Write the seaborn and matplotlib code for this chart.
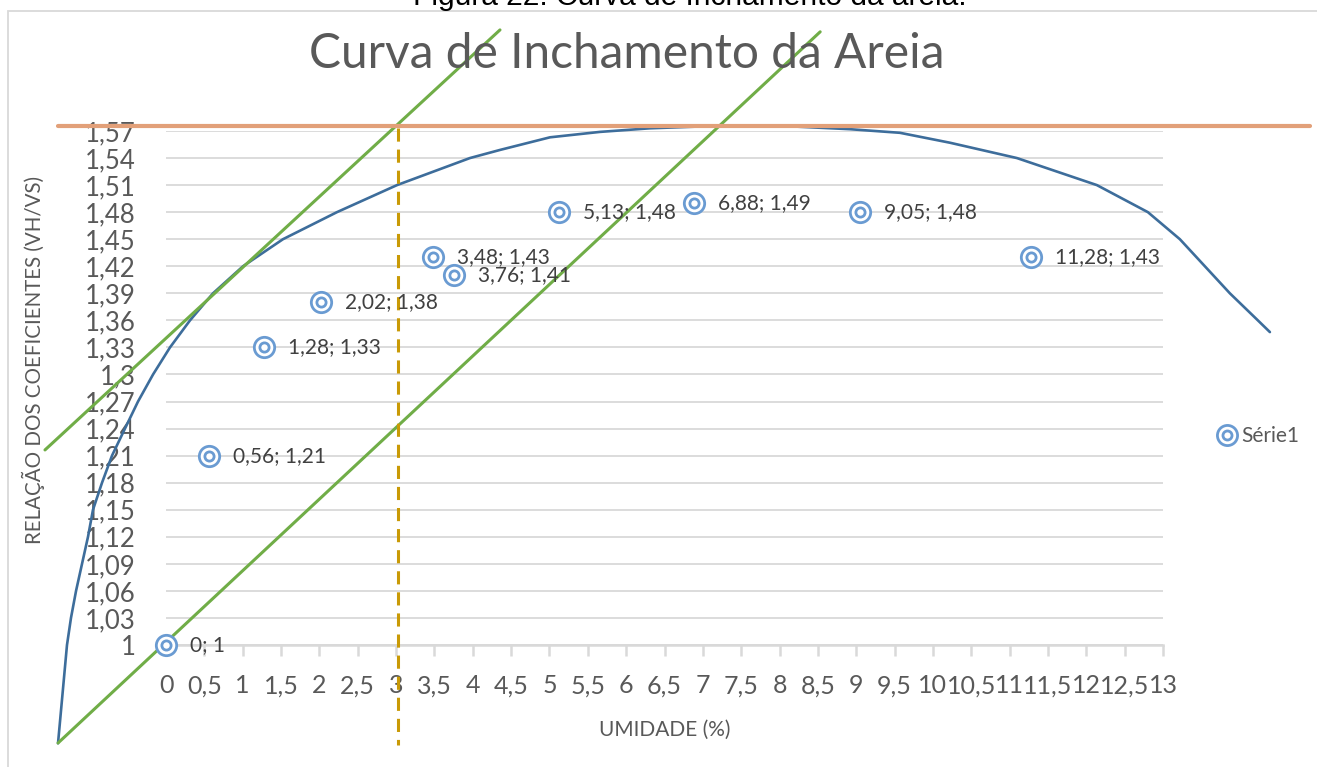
import numpy as np
import pandas as pd
import matplotlib
matplotlib.use("Agg")
import matplotlib.pyplot as plt
import seaborn as sns
from matplotlib.legend_handler import HandlerTuple
from matplotlib.lines import Line2D
from matplotlib.patches import Rectangle

# ---------------- data ----------------
umidade = [0, 0.56, 1.28, 2.02, 3.48, 3.76, 5.13, 6.88, 9.05, 11.28]
relacao = [1.00, 1.21, 1.33, 1.38, 1.43, 1.41, 1.48, 1.49, 1.48, 1.43]
point_labels = ["0; 1", "0,56; 1,21", "1,28; 1,33", "2,02; 1,38", "3,48; 1,43",
                "3,76; 1,41", "5,13; 1,48", "6,88; 1,49", "9,05; 1,48", "11,28; 1,43"]

# hand-drawn swelling curve (data units)
curve_x = [-1.408, -1.291, -1.239, -1.173, -1.095, -1.017, -0.952, -0.834, -0.704,
           -0.535, -0.365, -0.169, 0.052, 0.313, 0.613, 1.004, 1.525, 2.229, 3.012,
           3.963, 4.355, 5.007, 5.658, 6.310, 6.962, 7.940, 8.918, 9.570, 10.222,
           11.095, 12.138, 12.803, 13.220, 13.546, 13.872, 14.237, 14.394]
curve_y = [0.891, 1.000, 1.030, 1.060, 1.090, 1.120, 1.150, 1.180, 1.210,
           1.240, 1.270, 1.300, 1.330, 1.360, 1.390, 1.420, 1.450, 1.480, 1.510,
           1.540, 1.549, 1.563, 1.569, 1.573, 1.575, 1.576, 1.572, 1.568, 1.557,
           1.540, 1.510, 1.480, 1.450, 1.420, 1.390, 1.360, 1.347]

# tangent lines, max line and critical humidity line
tangent1_x = [-1.578, 4.355]
tangent1_y = [1.2163, 1.6821]
tangent2_x = [-1.408, 8.53]
tangent2_y = [0.8913, 1.680]
maxline_x = [-1.408, 14.915]
maxline_y = [1.5756, 1.5756]
critical_x = [3.02, 3.02]
critical_y = [1.5735, 0.889]

x_ticks = [0, 0.5, 1, 1.5, 2, 2.5, 3, 3.5, 4, 4.5, 5, 5.5, 6, 6.5, 7, 7.5, 8, 8.5,
           9, 9.5, 10, 10.5, 11, 11.5, 12, 12.5, 13]
x_tick_labels = ["0", "0,5", "1", "1,5", "2", "2,5", "3", "3,5", "4", "4,5", "5", "5,5",
                 "6", "6,5", "7", "7,5", "8", "8,5", "9", "9,5", "10", "10,5", "11",
                 "11,5", "12", "12,5", "13"]
y_ticks = [1.00, 1.03, 1.06, 1.09, 1.12, 1.15, 1.18, 1.21, 1.24, 1.27, 1.30,
           1.33, 1.36, 1.39, 1.42, 1.45, 1.48, 1.51, 1.54, 1.57]
y_tick_labels = ["1", "1,03", "1,06", "1,09", "1,12", "1,15", "1,18", "1,21", "1,24",
                 "1,27", "1,3", "1,33", "1,36", "1,39", "1,42", "1,45", "1,48", "1,51",
                 "1,54", "1,57"]

# ---------------- style ----------------
sns.set_theme(style="white")
plt.rcParams["font.family"] = ["Lato", "DejaVu Sans"]

W, H = 1317, 767
fig = plt.figure(figsize=(W / 100, H / 100), dpi=100)
L, R, T, B = 166, 1163, 131, 645
ax = fig.add_axes([L / W, 1 - B / H, (R - L) / W, (B - T) / H])

grid_c = "#D9D9D9"
text_c = "#595959"
mark_c = "#6A9BD2"

# chart-area border and (cut) caption above it
fig.patches.append(Rectangle((8 / W, -0.1), 1.2, 1.1 - 11 / H, transform=fig.transFigure,
                             fill=False, edgecolor=grid_c, linewidth=1.3))
fig.text(690 / W, 1 - 5 / H, "Figura 22: Curva de Inchamento da areia.",
         family=["Liberation Sans"], fontsize=21.5, color="black",
         ha="center", va="baseline")

# overlays (drawn shapes)
ax.plot(curve_x, curve_y, color="#3D6D9B", lw=1.9, clip_on=False, zorder=4,
        solid_joinstyle="round")
ax.plot(tangent1_x, tangent1_y, color="#70AD47", lw=2.2, clip_on=False, zorder=4)
ax.plot(tangent2_x, tangent2_y, color="#70AD47", lw=2.2, clip_on=False, zorder=4)
ax.plot(maxline_x, maxline_y, color="#E2A079", lw=3.0, clip_on=False, zorder=4)
ax.plot(critical_x, critical_y, color="#C99A06", lw=2.2, ls=(0, (4.3, 2.6)),
        clip_on=False, zorder=4)

# data points (double-ring markers)
df = pd.DataFrame({"umidade": umidade, "relacao": relacao})
sns.scatterplot(data=df, x="umidade", y="relacao", ax=ax, s=215, color="white",
                edgecolor=mark_c, linewidth=2.0, zorder=6, clip_on=False)
sns.scatterplot(data=df, x="umidade", y="relacao", ax=ax, s=44, color="white",
                edgecolor=mark_c, linewidth=2.0, zorder=7, clip_on=False)

for xv, yv, lab in zip(umidade, relacao, point_labels):
    ax.annotate(lab, (xv, yv), xytext=(17.3, 0), textcoords="offset points",
                ha="left", va="center", fontsize=15, color="#404040", zorder=8)

ax.set_xlim(0, 13)
ax.set_ylim(1, 1.57)
ax.set_xticks(x_ticks)
ax.set_xticklabels(x_tick_labels)
ax.set_yticks(y_ticks)
ax.set_yticklabels(y_tick_labels)

ax.grid(axis="y", color=grid_c, lw=1.3)
ax.grid(axis="x", visible=False)
for s in ["top", "right", "left"]:
    ax.spines[s].set_visible(False)
ax.spines["bottom"].set_color(grid_c)
ax.spines["bottom"].set_linewidth(1.8)
ax.tick_params(axis="x", direction="out", length=8, width=1.8, color=grid_c,
               labelsize=18, labelcolor=text_c, pad=13, bottom=True)
ax.tick_params(axis="y", length=0, labelsize=18.5, labelcolor=text_c, pad=22)

ax.set_xlabel("UMIDADE (%)", fontsize=15, color=text_c, labelpad=16)
ax.set_ylabel("RELAÇÃO DOS COEFICIENTES (VH/VS)", fontsize=14.8, color=text_c)
ax.yaxis.set_label_coords((45 - L) / (R - L), (B - 360) / (B - T))

fig.text(627 / W, 1 - 68 / H, "Curva de Inchamento da Areia", fontsize=34.5,
         color=text_c, ha="center", va="baseline")

# legend
h_out = Line2D([], [], ls="", marker="o", ms=14.5, mfc="white", mec=mark_c, mew=2.0)
h_in = Line2D([], [], ls="", marker="o", ms=6.5, mfc="white", mec=mark_c, mew=2.0)
fig.legend([(h_out, h_in)], ["Série1"], handler_map={tuple: HandlerTuple(ndivide=1)},
           loc="center left", bbox_to_anchor=(1217 / W, 1 - 436 / H), frameon=False,
           fontsize=15, labelcolor=text_c, handlelength=1.0, handletextpad=0.15,
           borderpad=0, borderaxespad=0)

fig.savefig("out.png", dpi=100)
